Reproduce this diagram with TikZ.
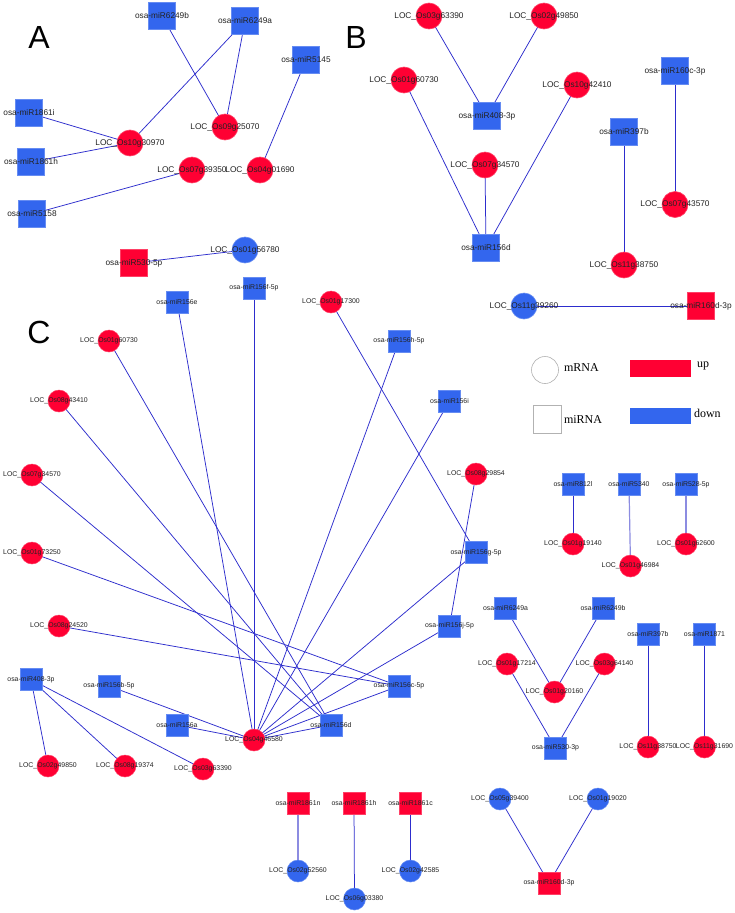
\documentclass[tikz,border=0pt]{standalone}
\usepackage{fontspec}
\setmainfont{Liberation Sans}
\newfontfamily\legserif{Liberation Serif}
\usetikzlibrary{backgrounds}
\definecolor{nred}{RGB}{255,0,51}
\definecolor{nblue}{RGB}{51,102,238}
\definecolor{edgec}{RGB}{45,45,205}
\definecolor{edgel}{RGB}{140,140,225}
\definecolor{lblc}{RGB}{35,35,35}
\tikzset{
  every node/.style={inner sep=0pt, outer sep=0pt},
  bsq/.style={rectangle, minimum size=26.5pt, fill=#1, draw=#1!75!white, line width=0.6pt},
  bci/.style={circle, minimum size=26pt, fill=#1, draw=#1!75!white, line width=0.6pt},
  ssq/.style={rectangle, minimum size=22pt, fill=#1, draw=#1!75!white, line width=0.5pt},
  sci/.style={circle, minimum size=22pt, fill=#1, draw=#1!75!white, line width=0.5pt},
  labAB/.style={font=\fontsize{8.3}{9}\selectfont, text=lblc},
  labC/.style={font=\fontsize{6.9}{8}\selectfont, text=lblc},
  edge/.style={draw=edgec, line width=0.75pt},
  edgelt/.style={draw=edgel, line width=1.2pt},
  panel/.style={font=\fontsize{32}{32}\selectfont, text=black},
  legtxt/.style={font=\legserif\fontsize{12}{13}\selectfont, text=black, anchor=west}
}
\begin{document}
\begin{tikzpicture}[x=1pt,y=-1pt]
\useasboundingbox (0,0) rectangle (735,913);
\begin{pgfonlayer}{background}
\fill[white] (0,0) rectangle (735,913);
\end{pgfonlayer}

% panel letters
\node[panel] (LA) at (39,37) {A};
\node[panel] (LB) at (356,37) {B};
\node[panel] (LC) at (39,332) {C};

% ---------------- Panel A
\node[bsq=nblue, label={[labAB]center:osa-miR6249b}] (a6249b) at (162,16) {};
\node[bsq=nblue, label={[labAB]center:osa-miR6249a}] (a6249a) at (245,21) {};
\node[bsq=nblue, label={[labAB]center:osa-miR5145}] (a5145) at (306,60) {};
\node[bsq=nblue, label={[labAB]center:osa-miR1861i}] (a1861i) at (29,113) {};
\node[bsq=nblue, label={[labAB]center:osa-miR1861h}] (a1861h) at (31,162) {};
\node[bsq=nblue, label={[labAB]center:osa-miR5158}] (a5158) at (32,214) {};
\node[bci=nred, label={[labAB]center:LOC\_Os10g30970}] (a30970) at (130,143) {};
\node[bci=nred, label={[labAB]center:LOC\_Os09g25070}] (a25070) at (225,127) {};
\node[bci=nred, label={[labAB]center:LOC\_Os07g39350}] (a39350) at (192,170) {};
\node[bci=nred, label={[labAB]center:LOC\_Os04g01690}] (a01690) at (260,170) {};
\node[bci=nblue, label={[labAB]center:LOC\_Os01g56780}] (a56780) at (245,250) {};
\node[bsq=nred, label={[labAB]center:osa-miR530-5p}] (a530) at (134,263) {};

% ---------------- Panel B
\node[bci=nred, label={[labAB]center:LOC\_Os03g63390}] (b63390) at (429,16) {};
\node[bci=nred, label={[labAB]center:LOC\_Os02g49850}] (b49850) at (544,16) {};
\node[bci=nred, label={[labAB]center:LOC\_Os01g60730}] (b60730) at (404,80) {};
\node[bci=nred, label={[labAB]center:LOC\_Os10g42410}] (b42410) at (577,85) {};
\node[bsq=nblue, label={[labAB]center:osa-miR408-3p}] (b408) at (487,116) {};
\node[bci=nred, label={[labAB]center:LOC\_Os07g34570}] (b34570) at (485,165) {};
\node[bsq=nblue, label={[labAB]center:osa-miR156d}] (b156d) at (486,248) {};
\node[bsq=nblue, label={[labAB]center:osa-miR160c-3p}] (b160c) at (675,71) {};
\node[bsq=nblue, label={[labAB]center:osa-miR397b}] (b397b) at (624,132) {};
\node[bci=nred, label={[labAB]center:LOC\_Os07g43570}] (b43570) at (675,204.5) {};
\node[bci=nred, label={[labAB]center:LOC\_Os11g38750}] (b38750) at (624,265) {};
\node[bci=nblue, label={[labAB]center:LOC\_Os11g39260}] (b39260) at (524,306) {};
\node[bsq=nred, label={[labAB]center:osa-miR160d-3p}] (b160d) at (701,306) {};

% ---------------- Legend
\node[circle, minimum size=27pt, draw=gray!60, line width=0.6pt] (lgc) at (545,370) {};
\node[legtxt] (lgm) at (564,368) {mRNA};
\node[rectangle, minimum width=28pt, minimum height=28pt, draw=gray!60, line width=0.6pt] (lgs) at (547.5,419.5) {};
\node[legtxt] (lgmi) at (564,420) {miRNA};
\node[rectangle, fill=nred, minimum width=60.5pt, minimum height=16.7pt] (lgup) at (660.3,368.3) {};
\node[legtxt] (lgu) at (697,366) {up};
\node[rectangle, fill=nblue, minimum width=60.5pt, minimum height=16.5pt] (lgdn) at (660.3,416.2) {};
\node[legtxt] (lgd) at (694,413) {down};

% ---------------- Panel C
\node[ssq=nblue, label={[labC]center:osa-miR156e}] (c156e) at (177,302) {};
\node[ssq=nblue, label={[labC]center:osa-miR156f-5p}] (c156f) at (254,288) {};
\node[sci=nred, label={[labC]center:LOC\_Os01g17300}] (c17300) at (331,302) {};
\node[sci=nred, label={[labC]center:LOC\_Os01g60730}] (c60730) at (109,341) {};
\node[sci=nred, label={[labC]center:LOC\_Os08g43410}] (c43410) at (59,401) {};
\node[sci=nred, label={[labC]center:LOC\_Os07g34570}] (c34570) at (32,475) {};
\node[sci=nred, label={[labC]center:LOC\_Os01g73250}] (c73250) at (32,553) {};
\node[sci=nred, label={[labC]center:LOC\_Os08g24520}] (c24520) at (59,626) {};
\node[ssq=nblue, label={[labC]center:osa-miR408-3p}] (c408) at (31,679.5) {};
\node[ssq=nblue, label={[labC]center:osa-miR156b-5p}] (c156b) at (109,686) {};
\node[ssq=nblue, label={[labC]center:osa-miR156a}] (c156a) at (177,725) {};
\node[sci=nred, label={[labC]center:LOC\_Os04g46580}] (c46580) at (254,740) {};
\node[ssq=nblue, label={[labC]center:osa-miR156d}] (c156d) at (331,725) {};
\node[sci=nred, label={[labC]center:LOC\_Os02g49850}] (c49850) at (48,766) {};
\node[sci=nred, label={[labC]center:LOC\_Os08g19374}] (c19374) at (125,766) {};
\node[sci=nred, label={[labC]center:LOC\_Os03g63390}] (c63390) at (203,769) {};
\node[ssq=nblue, label={[labC]center:osa-miR156h-5p}] (c156h) at (399,341) {};
\node[ssq=nblue, label={[labC]center:osa-miR156i}] (c156i) at (449.5,401) {};
\node[sci=nred, label={[labC]center:LOC\_Os08g29854}] (c29854) at (476,474) {};
\node[ssq=nblue, label={[labC]center:osa-miR156g-5p}] (c156g) at (476,552.5) {};
\node[ssq=nblue, label={[labC]center:osa-miR156j-5p}] (c156j) at (449.5,626) {};
\node[ssq=nblue, label={[labC]center:osa-miR156c-5p}] (c156c) at (399,686) {};
\node[ssq=nblue, label={[labC]center:osa-miR812l}] (c812l) at (573,484.5) {};
\node[ssq=nblue, label={[labC]center:osa-miR5340}] (c5340) at (629,484.5) {};
\node[ssq=nblue, label={[labC]center:osa-miR528-5p}] (c528) at (686,484.5) {};
\node[sci=nred, label={[labC]center:LOC\_Os01g19140}] (c19140) at (573,544) {};
\node[sci=nred, label={[labC]center:LOC\_Os01g62600}] (c62600) at (686,544) {};
\node[sci=nred, label={[labC]center:LOC\_Os01g46984}] (c46984) at (630.5,566) {};
\node[ssq=nblue, label={[labC]center:osa-miR6249a}] (c6249a) at (505.5,608) {};
\node[ssq=nblue, label={[labC]center:osa-miR6249b}] (c6249b) at (603,608) {};
\node[sci=nred, label={[labC]center:LOC\_Os01g17214}] (c17214) at (507,664) {};
\node[sci=nred, label={[labC]center:LOC\_Os03g64140}] (c64140) at (604.5,664) {};
\node[sci=nred, label={[labC]center:LOC\_Os01g20160}] (c20160) at (554.5,692) {};
\node[ssq=nblue, label={[labC]center:osa-miR530-3p}] (c530) at (555.5,748) {};
\node[ssq=nblue, label={[labC]center:osa-miR397b}] (c397b) at (648,634.5) {};
\node[ssq=nblue, label={[labC]center:osa-miR1871}] (c1871) at (704.5,634.5) {};
\node[sci=nred, label={[labC]center:LOC\_Os11g38750}] (c38750) at (648,747) {};
\node[sci=nred, label={[labC]center:LOC\_Os11g31690}] (c31690) at (704.5,747) {};
\node[ssq=nred, label={[labC]center:osa-miR1861n}] (c1861n) at (298,803) {};
\node[ssq=nred, label={[labC]center:osa-miR1861h}] (c1861h) at (354,803) {};
\node[ssq=nred, label={[labC]center:osa-miR1861c}] (c1861c) at (410.5,803) {};
\node[sci=nblue, label={[labC]center:LOC\_Os02g52560}] (c52560) at (298,871) {};
\node[sci=nblue, label={[labC]center:LOC\_Os06g03380}] (c03380) at (354.5,899) {};
\node[sci=nblue, label={[labC]center:LOC\_Os02g42585}] (c42585) at (410.5,871) {};
\node[sci=nblue, label={[labC]center:LOC\_Os05g39400}] (c39400) at (500,799) {};
\node[sci=nblue, label={[labC]center:LOC\_Os01g19020}] (c19020) at (598,799) {};
\node[ssq=nred, label={[labC]center:osa-miR160d-3p}] (c160d) at (549,883) {};

% ---------------- Edges
\begin{pgfonlayer}{background}
% A
\draw[edge] (a6249b.center) -- (a25070.center);
\draw[edge] (a6249a.center) -- (a30970.center);
\draw[edge] (a6249a.center) -- (a25070.center);
\draw[edge] (a5145.center) -- (a01690.center);
\draw[edge] (a1861i.center) -- (a30970.center);
\draw[edge] (a1861h.center) -- (a30970.center);
\draw[edge] (a5158.center) -- (a39350.center);
\draw[edge] (a530.center) -- (a56780.center);
% B
\draw[edge] (b63390.center) -- (b408.center);
\draw[edge] (b49850.center) -- (b408.center);
\draw[edge] (b60730.center) -- (b156d.center);
\draw[edge] (b34570.center) -- (b156d.center);
\draw[edge] (b42410.center) -- (b156d.center);
\draw[edge] (b160c.center) -- (b43570.center);
\draw[edge] (b397b.center) -- (b38750.center);
\draw[edge] (b39260.center) -- (b160d.center);
% C hub
\foreach \m in {c156e,c156f,c156h,c156i,c156g,c156j,c156c,c156d,c156a,c156b}
  \draw[edge] (\m.center) -- (c46580.center);
\draw[edge] (c60730.center) -- (c156d.center);
\draw[edge] (c43410.center) -- (c156d.center);
\draw[edge] (c34570.center) -- (c156d.center);
\draw[edge] (c73250.center) -- (c156c.center);
\draw[edge] (c24520.center) -- (c156c.center);
\draw[edge] (c17300.center) -- (c156g.center);
\draw[edge] (c29854.center) -- (c156j.center);
\draw[edge] (c408.center) -- (c49850.center);
\draw[edge] (c408.center) -- (c19374.center);
\draw[edge] (c408.center) -- (c63390.center);
% C small groups
\draw[edge] (c812l.center) -- (c19140.center);
\draw[edgelt] (c5340.center) -- (c46984.center);
\draw[edgelt] (c528.center) -- (c62600.center);
\draw[edge] (c6249a.center) -- (c20160.center);
\draw[edge] (c6249b.center) -- (c20160.center);
\draw[edge] (c17214.center) -- (c530.center);
\draw[edge] (c64140.center) -- (c530.center);
\draw[edge] (c397b.center) -- (c38750.center);
\draw[edge] (c1871.center) -- (c31690.center);
\draw[edgelt] (c1861n.center) -- (c52560.center);
\draw[edge] (c1861h.center) -- (c03380.center);
\draw[edge] (c1861c.center) -- (c42585.center);
\draw[edge] (c39400.center) -- (c160d.center);
\draw[edge] (c19020.center) -- (c160d.center);
\end{pgfonlayer}
\end{tikzpicture}
\end{document}
